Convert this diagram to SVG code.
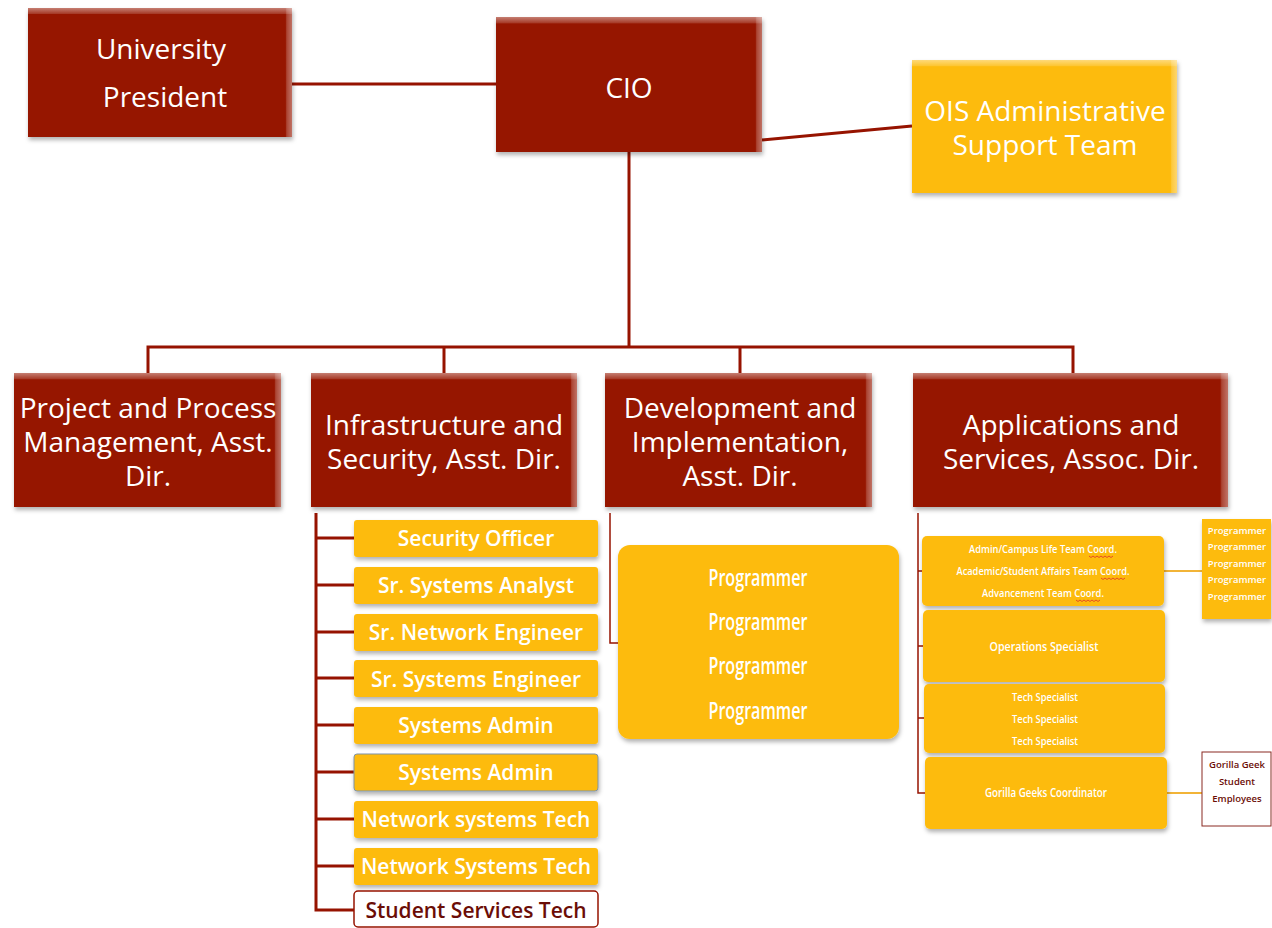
<svg xmlns="http://www.w3.org/2000/svg" width="1272" height="928" viewBox="0 0 1272 928">
  <defs>
    <filter id="shadow" x="-10%" y="-10%" width="125%" height="130%">
      <feDropShadow dx="1" dy="3" stdDeviation="2" flood-color="#000" flood-opacity="0.3"/>
    </filter>
    <linearGradient id="bevelTop" x1="0" y1="0" x2="0" y2="1">
      <stop offset="0" stop-color="#fff" stop-opacity="0.45"/>
      <stop offset="0.045" stop-color="#fff" stop-opacity="0.15"/>
      <stop offset="0.05" stop-color="#fff" stop-opacity="0"/>
      <stop offset="1" stop-color="#fff" stop-opacity="0"/>
    </linearGradient>
    <linearGradient id="bevelRight" x1="0" y1="0" x2="1" y2="0">
      <stop offset="0" stop-color="#fff" stop-opacity="0"/>
      <stop offset="0.975" stop-color="#fff" stop-opacity="0"/>
      <stop offset="0.98" stop-color="#fff" stop-opacity="0.2"/>
      <stop offset="1" stop-color="#fff" stop-opacity="0.4"/>
    </linearGradient>
  </defs>
  <style>
    .red { fill: #961300; filter: url(#shadow); }
    .gold { fill: #fdbb0b; filter: url(#shadow); }
    .bt { fill: url(#bevelTop); }
    .br { fill: url(#bevelRight); }
    .wt { fill: #fff; font-family: "Open Sans", "Liberation Sans", sans-serif; text-anchor: middle; }
    .big { font-size: 28px; }
    .mid { font-size: 21px; font-weight: 600; }
    .prog { font-size: 23px; font-weight: 600; }
    .sm { font-size: 12px; font-weight: 600; }
    .xs { font-size: 10.5px; font-weight: 600; }
    .xxs { font-size: 9.5px; font-weight: 600; }
    .dk { fill: #6b0d06; }
    .ln { stroke: #961300; stroke-width: 3; fill: none; }
    .thin { stroke: #961300; stroke-width: 1.5; fill: none; }
    .gl { stroke: #f2b437; stroke-width: 2; fill: none; }
    .spell { stroke: #e0302a; stroke-width: 0.8; fill: none; }
  </style>

  <!-- connectors -->
  <g id="connectors">
    <line class="ln" x1="292" y1="84" x2="496" y2="84"/>
    <line class="ln" x1="762" y1="140" x2="912" y2="126"/>
    <line class="ln" x1="629" y1="152" x2="629" y2="347"/>
    <polyline class="ln" points="148,373 148,347 1073,347 1073,373"/>
    <line class="ln" x1="444" y1="347" x2="444" y2="373"/>
    <line class="ln" x1="740" y1="347" x2="740" y2="373"/>
    <!-- infrastructure staff -->
    <polyline class="ln" points="316,513 316,910 354,910"/>
    <line class="ln" x1="316" y1="538" x2="354" y2="538"/>
    <line class="ln" x1="316" y1="585" x2="354" y2="585"/>
    <line class="ln" x1="316" y1="632" x2="354" y2="632"/>
    <line class="ln" x1="316" y1="678" x2="354" y2="678"/>
    <line class="ln" x1="316" y1="725" x2="354" y2="725"/>
    <line class="ln" x1="316" y1="772" x2="354" y2="772"/>
    <line class="ln" x1="316" y1="819" x2="354" y2="819"/>
    <line class="ln" x1="316" y1="866" x2="354" y2="866"/>
    <!-- development staff -->
    <polyline class="thin" points="610,513 610,643 620,643"/>
    <!-- applications staff -->
    <polyline class="thin" points="918,513 918,793 925,793"/>
    <line class="thin" x1="918" y1="571" x2="922" y2="571"/>
    <line class="thin" x1="918" y1="646" x2="923" y2="646"/>
    <line class="thin" x1="918" y1="718" x2="924" y2="718"/>
    <line class="gl" x1="1164" y1="571" x2="1202" y2="571"/>
    <line class="gl" x1="1167" y1="793" x2="1202" y2="793"/>
  </g>

  <g id="president">
    <rect class="red" x="28" y="8" width="264" height="129"/>
    <rect class="bt" x="28" y="8" width="264" height="129"/>
    <rect class="br" x="28" y="8" width="264" height="129"/>
    <text class="wt big" x="161" y="59">University</text>
    <text class="wt big" x="165" y="107">President</text>
  </g>

  <g id="cio">
    <rect class="red" x="496" y="17" width="266" height="135"/>
    <rect class="bt" x="496" y="17" width="266" height="135"/>
    <rect class="br" x="496" y="17" width="266" height="135"/>
    <text class="wt big" x="629" y="98">CIO</text>
  </g>

  <g id="ois-support">
    <rect class="gold" x="912" y="60" width="265" height="133"/>
    <rect class="bt" x="912" y="60" width="265" height="133"/>
    <rect class="br" x="912" y="60" width="265" height="133"/>
    <text class="wt big" x="1045" y="121">OIS Administrative</text>
    <text class="wt big" x="1045" y="155">Support Team</text>
  </g>

  <g id="project-process">
    <rect class="red" x="14" y="373" width="267" height="134"/>
    <rect class="bt" x="14" y="373" width="267" height="134"/>
    <rect class="br" x="14" y="373" width="267" height="134"/>
    <text class="wt big" x="148" y="418">Project and Process</text>
    <text class="wt big" x="148" y="452">Management, Asst.</text>
    <text class="wt big" x="148" y="486">Dir.</text>
  </g>

  <g id="infrastructure">
    <rect class="red" x="311" y="373" width="266" height="134"/>
    <rect class="bt" x="311" y="373" width="266" height="134"/>
    <rect class="br" x="311" y="373" width="266" height="134"/>
    <text class="wt big" x="444" y="435">Infrastructure and</text>
    <text class="wt big" x="444" y="469">Security, Asst. Dir.</text>
  </g>

  <g id="development">
    <rect class="red" x="605" y="373" width="267" height="134"/>
    <rect class="bt" x="605" y="373" width="267" height="134"/>
    <rect class="br" x="605" y="373" width="267" height="134"/>
    <text class="wt big" x="740" y="418">Development and</text>
    <text class="wt big" x="740" y="452">Implementation,</text>
    <text class="wt big" x="740" y="486">Asst. Dir.</text>
  </g>

  <g id="applications">
    <rect class="red" x="913" y="373" width="315" height="134"/>
    <rect class="bt" x="913" y="373" width="315" height="134"/>
    <rect class="br" x="913" y="373" width="315" height="134"/>
    <text class="wt big" x="1071" y="435">Applications and</text>
    <text class="wt big" x="1071" y="469">Services, Assoc. Dir.</text>
  </g>

  <!-- infrastructure staff -->
  <g id="security-officer">
    <rect class="gold" x="354" y="520" width="244" height="37" rx="3"/>
    <text class="wt mid" x="476" y="546">Security Officer</text>
  </g>
  <g id="sr-systems-analyst">
    <rect class="gold" x="354" y="567" width="244" height="37" rx="3"/>
    <text class="wt mid" x="476" y="593">Sr. Systems Analyst</text>
  </g>
  <g id="sr-network-engineer">
    <rect class="gold" x="354" y="614" width="244" height="37" rx="3"/>
    <text class="wt mid" x="476" y="640">Sr. Network Engineer</text>
  </g>
  <g id="sr-systems-engineer">
    <rect class="gold" x="354" y="660" width="244" height="37" rx="3"/>
    <text class="wt mid" x="476" y="687">Sr. Systems Engineer</text>
  </g>
  <g id="systems-admin-1">
    <rect class="gold" x="354" y="707" width="244" height="37" rx="3"/>
    <text class="wt mid" x="476" y="733">Systems Admin</text>
  </g>
  <g id="systems-admin-2">
    <rect class="gold" x="354" y="754" width="244" height="37" rx="3" stroke="#7f93a8" stroke-width="1"/>
    <text class="wt mid" x="476" y="780">Systems Admin</text>
  </g>
  <g id="network-systems-tech-1">
    <rect class="gold" x="354" y="801" width="244" height="37" rx="3"/>
    <text class="wt mid" x="476" y="827">Network systems Tech</text>
  </g>
  <g id="network-systems-tech-2">
    <rect class="gold" x="354" y="848" width="244" height="37" rx="3"/>
    <text class="wt mid" x="476" y="874">Network Systems Tech</text>
  </g>
  <g id="student-services-tech">
    <rect x="354" y="891" width="244" height="36" rx="4" fill="#fff" stroke="#961300" stroke-width="1.5"/>
    <text class="wt mid dk" x="476" y="918">Student Services Tech</text>
  </g>

  <!-- development staff -->
  <g id="dev-programmers">
    <rect class="gold" x="618" y="545" width="281" height="194" rx="12"/>
    <text class="wt prog" x="758" y="586" textLength="99" lengthAdjust="spacingAndGlyphs">Programmer</text>
    <text class="wt prog" x="758" y="630" textLength="99" lengthAdjust="spacingAndGlyphs">Programmer</text>
    <text class="wt prog" x="758" y="674" textLength="99" lengthAdjust="spacingAndGlyphs">Programmer</text>
    <text class="wt prog" x="758" y="719" textLength="99" lengthAdjust="spacingAndGlyphs">Programmer</text>
  </g>

  <!-- applications staff -->
  <g id="team-coordinators">
    <rect class="gold" x="922" y="536" width="242" height="70" rx="5"/>
    <text class="wt xs" x="1043" y="553" textLength="148" lengthAdjust="spacingAndGlyphs">Admin/Campus Life Team Coord.</text>
    <text class="wt xs" x="1043" y="575" textLength="173" lengthAdjust="spacingAndGlyphs">Academic/Student Affairs Team Coord.</text>
    <text class="wt xs" x="1043" y="597" textLength="122" lengthAdjust="spacingAndGlyphs">Advancement Team Coord.</text>
    <path class="spell" d="M1089,556 l2,1.5 l2,-1.5 l2,1.5 l2,-1.5 l2,1.5 l2,-1.5 l2,1.5 l2,-1.5 l2,1.5 l2,-1.5 l2,1.5 l2,-1.5"/>
    <path class="spell" d="M1101,578 l2,1.5 l2,-1.5 l2,1.5 l2,-1.5 l2,1.5 l2,-1.5 l2,1.5 l2,-1.5 l2,1.5 l2,-1.5 l2,1.5 l2,-1.5"/>
    <path class="spell" d="M1076,600 l2,1.5 l2,-1.5 l2,1.5 l2,-1.5 l2,1.5 l2,-1.5 l2,1.5 l2,-1.5 l2,1.5 l2,-1.5 l2,1.5 l2,-1.5"/>
  </g>
  <g id="operations-specialist">
    <rect class="gold" x="923" y="610" width="242" height="72" rx="5"/>
    <text class="wt sm" x="1044" y="651" textLength="109" lengthAdjust="spacingAndGlyphs">Operations Specialist</text>
  </g>
  <g id="tech-specialists">
    <rect class="gold" x="924" y="684" width="241" height="69" rx="5"/>
    <text class="wt xs" x="1045" y="701" textLength="66" lengthAdjust="spacingAndGlyphs">Tech Specialist</text>
    <text class="wt xs" x="1045" y="723" textLength="66" lengthAdjust="spacingAndGlyphs">Tech Specialist</text>
    <text class="wt xs" x="1045" y="745" textLength="66" lengthAdjust="spacingAndGlyphs">Tech Specialist</text>
  </g>
  <g id="gorilla-geeks-coordinator">
    <rect class="gold" x="925" y="757" width="242" height="72" rx="5"/>
    <text class="wt sm" x="1046" y="797" textLength="122" lengthAdjust="spacingAndGlyphs">Gorilla Geeks Coordinator</text>
  </g>
  <g id="apps-programmers">
    <rect class="gold" x="1202" y="519" width="69" height="100"/>
    <text class="wt xxs" x="1237" y="534">Programmer</text>
    <text class="wt xxs" x="1237" y="550">Programmer</text>
    <text class="wt xxs" x="1237" y="567">Programmer</text>
    <text class="wt xxs" x="1237" y="583">Programmer</text>
    <text class="wt xxs" x="1237" y="600">Programmer</text>
  </g>
  <g id="gorilla-geek-students">
    <rect x="1202" y="752" width="69" height="74" fill="#fff" stroke="#8a2a22" stroke-width="1"/>
    <text class="wt xxs dk" x="1237" y="768">Gorilla Geek</text>
    <text class="wt xxs dk" x="1237" y="785">Student</text>
    <text class="wt xxs dk" x="1237" y="802">Employees</text>
  </g>
</svg>
